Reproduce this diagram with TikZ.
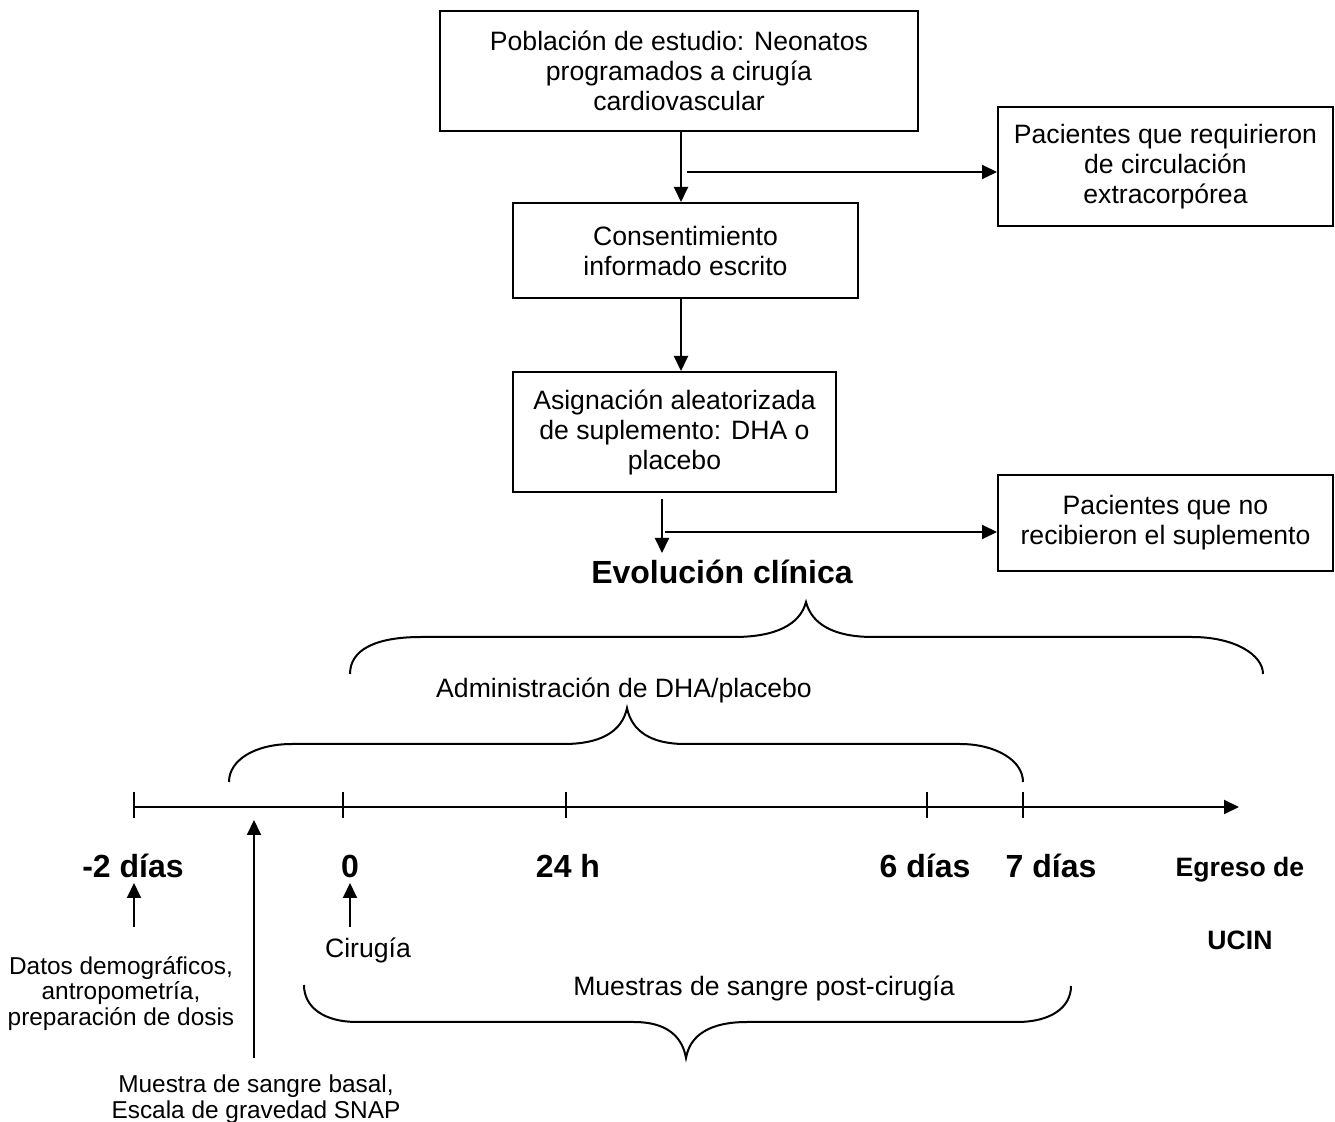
\documentclass[tikz,border=0pt]{standalone}
\usepackage{fontspec}
\setmainfont{Liberation Sans}
\usetikzlibrary{arrows.meta}
\begin{document}
\begin{tikzpicture}[x=0.5pt,y=-0.5pt,
  line width=1pt,
  every node/.style={font=\fontsize{13.3}{15}\selectfont, inner sep=0pt},
  boxnode/.style={draw, align=center},
  arr/.style={-{Triangle[length=7.5pt,width=7pt]}},
  bigbold/.style={font=\fontsize{16}{19}\selectfont\bfseries},
  smallbold/.style={font=\fontsize{13.3}{15}\selectfont\bfseries},
  smalltext/.style={font=\fontsize{12.2}{12.7}\selectfont, align=center},
  bracepath/.style={line width=1pt},
  tickline/.style={line width=1pt}]
\useasboundingbox (0,0) rectangle (1335,1122);

% boxes
\node[boxnode, minimum width=239pt, minimum height=60pt] (b1) at (679,71)
  {Población de estudio: Neonatos\\programados a cirugía\\cardiovascular};
\node[boxnode, minimum width=172.5pt, minimum height=47.5pt] (b2) at (685.5,250.5)
  {Consentimiento\\informado escrito};
\node[boxnode, minimum width=167.5pt, minimum height=59.5pt] (b3) at (1165.5,166.5)
  {Pacientes que requirieron\\de circulación\\extracorpórea};
\node[boxnode, minimum width=161.5pt, minimum height=60pt] (b4) at (674.5,432)
  {Asignación aleatorizada\\de suplemento: DHA o\\placebo};
\node[boxnode, minimum width=167.5pt, minimum height=48pt] (b5) at (1165.5,523)
  {Pacientes que no\\recibieron el suplemento};

% flow connectors
\coordinate (v1) at (681,131);
\coordinate (j1) at (687,172);
\draw[arr] (v1) -- (v1 |- b2.north);
\draw[arr] (j1) -- (j1 -| b3.west);
\coordinate (v2) at (681,298);
\draw[arr] (v2) -- (v2 |- b4.north);

\node[bigbold] (evo) at (722,572) {Evolución clínica};
\coordinate (v3) at (662,499);
\coordinate (v3e) at (662,553);
\coordinate (j2) at (665,532);
\draw[arr] (v3) -- (v3e);
\draw[arr] (j2) -- (j2 -| b5.west);

% upper brace (Evolución clínica)
\draw[bracepath] (350,674) .. controls (350,650) and (375,637) .. (421,637)
  -- (734,637) .. controls (775,637) and (800,625) .. (806,602)
  .. controls (812,625) and (835,637) .. (873,637)
  -- (1192,637) .. controls (1235,637) and (1263,655) .. (1263,674);

\node (adm) at (624,690) {Administración de DHA/placebo};

% lower brace (Administración)
\draw[bracepath] (229,782) .. controls (229,760) and (255,744) .. (292,744)
  -- (564,744) .. controls (600,744) and (622,732) .. (627,708)
  .. controls (632,732) and (652,744) .. (685,744)
  -- (960,744) .. controls (995,744) and (1023,760) .. (1023,782);

% timeline
\coordinate (t0) at (134,807);
\coordinate (tend) at (1239,807);
\draw[arr] (t0) -- (tend);
\foreach \tx/\tn in {134/ta,343/tb,566/tc,927/td,1023/te}{
  \coordinate (\tn) at (\tx,805);
  \draw[tickline] (\tx,792) -- (\tx,818);
}

% time labels
\node[bigbold] (lm2) at (133,866) {-2 días};
\node[bigbold] (l0) at (350,866) {0};
\node[bigbold] (l24) at (568,866) {24 h};
\node[bigbold] (l6) at (925,866) {6 días};
\node[bigbold] (l7) at (1051,866) {7 días};
\node[smallbold] (eg1) at (1240,870) {Egreso de};
\node[smallbold] (eg2) at (1240,940) {UCIN};

% event arrows
\coordinate (a1s) at (134,927);
\coordinate (a1e) at (134,883);
\draw[arr] (a1s) -- (a1e);
\coordinate (a2s) at (350,927);
\coordinate (a2e) at (350,883);
\draw[arr] (a2s) -- (a2e);
\coordinate (a3s) at (254,1058);
\coordinate (a3e) at (254,820);
\draw[arr] (a3s) -- (a3e);

\node[smalltext] (datos) at (121,993.5)
  {Datos demográficos,\\antropometría,\\preparación de dosis};
\node (cir) at (368,950) {Cirugía};
\node (mpc) at (764,988) {Muestras de sangre post-cirugía};
\node[smalltext] (mbas) at (256,1099)
  {Muestra de sangre basal,\\Escala de gravedad SNAP};

% bottom brace (muestras post-cirugía)
\draw[bracepath] (304,985) .. controls (304,1008) and (325,1022) .. (357,1022)
  -- (634,1022) .. controls (665,1022) and (682,1035) .. (686,1058)
  .. controls (690,1035) and (710,1022) .. (747,1022)
  -- (1017,1022) .. controls (1050,1022) and (1071,1008) .. (1071,986);
\end{tikzpicture}
\end{document}
